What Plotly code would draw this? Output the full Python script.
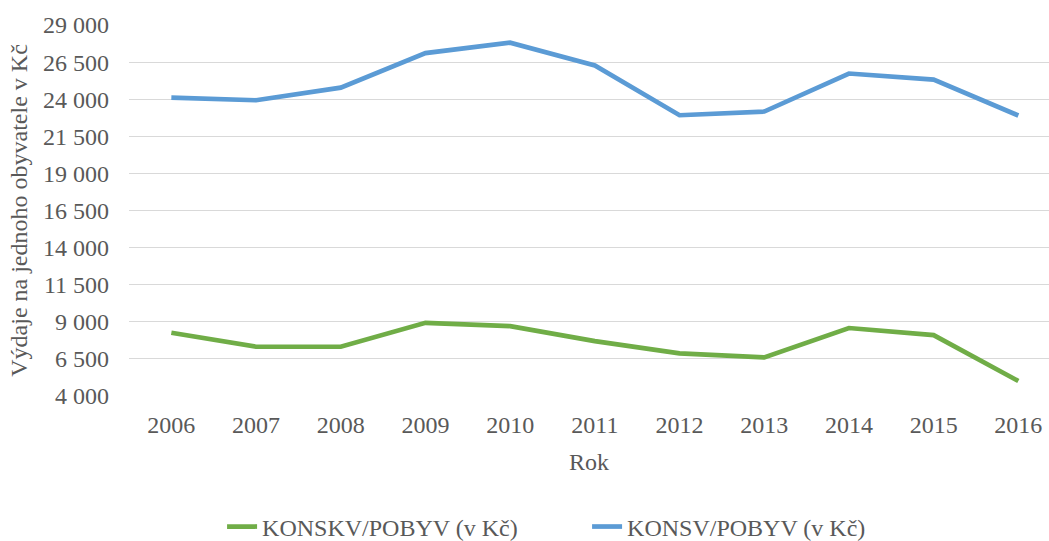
import plotly.graph_objects as go

years = ["2006", "2007", "2008", "2009", "2010", "2011", "2012", "2013", "2014", "2015", "2016"]
konskv = [8260, 7320, 7320, 8930, 8710, 7700, 6870, 6600, 8580, 8100, 5010]
konsv = [24110, 23930, 24780, 27110, 27810, 26270, 22920, 23170, 25730, 25320, 22900]
y_ticks = [4000, 6500, 9000, 11500, 14000, 16500, 19000, 21500, 24000, 26500, 29000]
y_tick_labels = ["4 000", "6 500", "9 000", "11 500", "14 000", "16 500", "19 000",
                 "21 500", "24 000", "26 500", "29 000"]

FONT = "Liberation Serif, Times New Roman, serif"
GREY = "#595959"
FS = 24

fig = go.Figure()
fig.add_trace(go.Scatter(x=years, y=konskv, mode="lines", name="KONSKV/POBYV (v Kč)",
                         line=dict(color="#70AD47", width=4.7)))
fig.add_trace(go.Scatter(x=years, y=konsv, mode="lines", name="KONSV/POBYV (v Kč)",
                         line=dict(color="#5B9BD5", width=4.7)))

fig.update_layout(
    width=1049, height=541,
    margin=dict(l=129, r=0, t=25, b=145),
    paper_bgcolor="white", plot_bgcolor="white",
    font=dict(family=FONT, size=FS, color=GREY),
    showlegend=True,
    legend=dict(orientation="h", xref="container", yref="container",
                x=0.2117, y=0.026, xanchor="left", yanchor="middle",
                font=dict(family=FONT, size=FS, color=GREY),
                entrywidth=320, traceorder="normal"),
    xaxis=dict(type="category", range=[-0.5, 10.362], showgrid=False, showline=False,
               zeroline=False, ticks="", ticklabelstandoff=12,
               title=dict(text="Rok", standoff=16, font=dict(family=FONT, size=FS, color=GREY))),
    yaxis=dict(range=[4000, 29000], tickvals=y_ticks, ticktext=y_tick_labels,
               showgrid=True, gridcolor="#D9D9D9", gridwidth=1.3, zeroline=False,
               showline=False, ticks="", ticklabelstandoff=19,
               title=dict(text="Výdaje na jednoho obyvatele v Kč", standoff=8,
                          font=dict(family=FONT, size=FS, color=GREY))),
)

fig.write_html("out.html", config={"displayModeBar": False},
               post_script="document.body.style.margin='0';")
